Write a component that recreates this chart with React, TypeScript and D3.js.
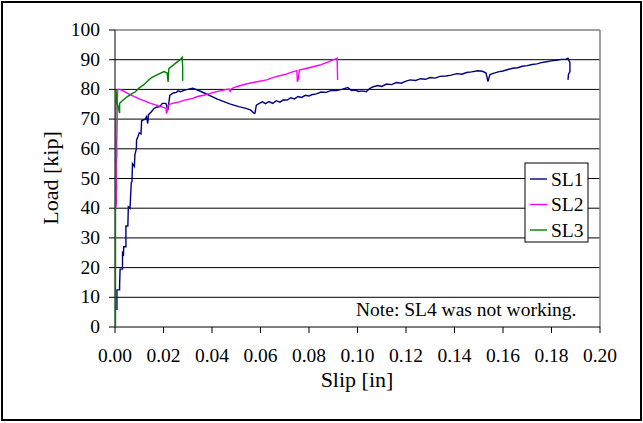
import React from "react";
import * as d3 from "d3";

const xTicks = [0, 0.02, 0.04, 0.06, 0.08, 0.1, 0.12, 0.14, 0.16, 0.18, 0.2];
const yTicks = [0, 10, 20, 30, 40, 50, 60, 70, 80, 90, 100];
const seriesNames = ["SL1", "SL2", "SL3"];
const seriesColors = ["#000080", "#FF00FF", "#008000"];

const sl1: [number, number][] = [
  [0.0008, 5.7], [0.0008, 12.5], [0.0019, 12.5], [0.0019, 14], [0.0021, 19.5], [0.0031, 19.5],
  [0.0031, 25], [0.0035, 24.5], [0.0036, 27], [0.0045, 27], [0.0045, 34], [0.0053, 34],
  [0.0055, 40.5], [0.0062, 40], [0.0067, 48.6], [0.007, 49], [0.0072, 55], [0.008, 54],
  [0.0082, 58], [0.0088, 60], [0.0089, 63], [0.0094, 64], [0.01, 65.4], [0.0107, 65],
  [0.011, 69.5], [0.0125, 70], [0.013, 70.8], [0.0135, 68.5], [0.0138, 71.5], [0.015, 72.5],
  [0.016, 73.5], [0.017, 74], [0.0185, 74.2], [0.0195, 75.3], [0.021, 75.3], [0.0218, 73],
  [0.0222, 75.5], [0.0226, 78], [0.024, 78.8], [0.0253, 79], [0.026, 79.5], [0.027, 79.2],
  [0.0287, 79.8], [0.03, 80], [0.032, 80.4], [0.034, 79.8], [0.0371, 78.7], [0.042, 76.8],
  [0.0473, 75.1], [0.051, 74.2], [0.054, 73.6], [0.056, 73], [0.0574, 71.9], [0.0577, 72],
  [0.0583, 74.7], [0.0595, 75.3], [0.0608, 75.8], [0.062, 75.2], [0.0635, 75.9], [0.065, 75.3],
  [0.0665, 76.2], [0.068, 75.7], [0.0695, 76.5], [0.071, 76.4], [0.0725, 77.2], [0.074, 76.8],
  [0.0755, 77.6], [0.077, 77.3], [0.0785, 78], [0.08, 77.8], [0.0811, 78.2], [0.083, 78.5],
  [0.085, 79.1], [0.087, 79], [0.089, 79.6], [0.0913, 79.6], [0.0935, 80], [0.096, 80.6],
  [0.0975, 79.6], [0.099, 79.8], [0.1005, 79.3], [0.102, 79.5], [0.1036, 79.2], [0.105, 80.3],
  [0.1065, 80.9], [0.1085, 81.3], [0.11, 81], [0.112, 81.8], [0.114, 81.6], [0.116, 82.3],
  [0.118, 82.1], [0.12, 82.8], [0.1217, 83.2], [0.124, 83], [0.126, 83.6], [0.128, 83.4],
  [0.13, 84], [0.132, 83.8], [0.134, 84.4], [0.1365, 84.5], [0.1386, 84.8], [0.141, 85.3],
  [0.143, 85.1], [0.145, 85.7], [0.147, 85.9], [0.1496, 86.3], [0.1515, 86.1], [0.153, 85.5],
  [0.1538, 82.6], [0.1546, 85], [0.156, 85.4], [0.158, 85.9], [0.16, 86.2], [0.162, 86.7],
  [0.164, 87.1], [0.166, 87.3], [0.168, 87.8], [0.17, 88], [0.172, 88.4], [0.174, 88.6],
  [0.1758, 89], [0.178, 89.3], [0.18, 89.6], [0.182, 89.8], [0.184, 90.1], [0.186, 90.2],
  [0.1868, 90.5], [0.1876, 89], [0.1876, 86], [0.187, 85], [0.1868, 83.2],
];

const sl2: [number, number][] = [
  [0.0003, 40], [0.0006, 42], [0.0005, 45], [0.0007, 47], [0.0006, 50], [0.0005, 55],
  [0.0008, 58], [0.0007, 62], [0.0008, 65], [0.0009, 70], [0.0009, 75], [0.0011, 80],
  [0.0021, 80], [0.006, 78.3], [0.01, 76.8], [0.015, 75.2], [0.019, 74.2], [0.021, 73.6],
  [0.0212, 71.9], [0.0215, 72.5], [0.0219, 74.7], [0.0235, 75.3], [0.025, 75.5], [0.0265, 75.8],
  [0.0287, 76.4], [0.03, 76.6], [0.032, 77], [0.034, 77.6], [0.037, 78.1], [0.039, 78.6],
  [0.041, 79.1], [0.0439, 79.6], [0.046, 80], [0.047, 80.1], [0.0475, 79.3], [0.048, 80.2],
  [0.05, 80.9], [0.054, 81.8], [0.058, 82.5], [0.0625, 83.2], [0.066, 84.2], [0.07, 85],
  [0.0735, 86], [0.075, 86.3], [0.0752, 82.6], [0.0756, 83.5], [0.076, 86.5], [0.08, 87.3],
  [0.0845, 88.2], [0.088, 89.3], [0.0916, 90.5], [0.0918, 83.2],
];

const sl3: [number, number][] = [
  [0.0002, 0], [0.0002, 40], [0.0003, 75], [0.0004, 80], [0.0008, 75.3], [0.0012, 74.5],
  [0.0019, 72], [0.0019, 75.3], [0.003, 76.2], [0.005, 77.5], [0.0065, 78.3], [0.0084, 79.2],
  [0.01, 80.5], [0.0118, 81.5], [0.0135, 82.8], [0.0151, 84], [0.0175, 85], [0.0202, 86],
  [0.0215, 85.5], [0.0219, 82.5], [0.0222, 87], [0.0245, 88.5], [0.027, 90.1], [0.0277, 90.8],
  [0.0279, 87.4], [0.0279, 82.9],
];

const seriesData = [sl1, sl2, sl3];

export default function App() {
  const W = 643, H = 423;
  const left = 115, right = 600, top = 30, bottom = 327;
  const x = d3.scaleLinear().domain([0, 0.2]).range([left, right]);
  const y = d3.scaleLinear().domain([0, 100]).range([bottom, top]);
  const line = d3.line<[number, number]>().x((d) => x(d[0])).y((d) => y(d[1]));
  const font = "Liberation Serif, DejaVu Serif, Times New Roman, serif";
  const fs = 19.5;

  return (
    <svg width={W} height={H} style={{ position: "absolute", left: 0, top: 0, background: "#fff", fontFamily: font }}>
      <rect x={2} y={2} width={639} height={418} fill="#fff" stroke="#000" strokeWidth={2} />
      {yTicks.filter((t) => t > 0 && t < 100).map((t) => (
        <line key={t} x1={left} x2={right} y1={y(t)} y2={y(t)} stroke="#000" strokeWidth={1} />
      ))}
      <line x1={left} x2={right} y1={top} y2={top} stroke="#808080" strokeWidth={1.5} />
      <line x1={right} x2={right} y1={top} y2={bottom} stroke="#808080" strokeWidth={1.5} />
      <line x1={left} x2={left} y1={top} y2={bottom} stroke="#000" strokeWidth={1} />
      <line x1={left} x2={right} y1={bottom} y2={bottom} stroke="#000" strokeWidth={1} />
      {yTicks.map((t) => (
        <g key={t}>
          <line x1={left - 6} x2={left} y1={y(t)} y2={y(t)} stroke="#000" />
          <text x={100} y={y(t) + 6} fontSize={fs} textAnchor="end" style={{ fontFamily: font }}>{t}</text>
        </g>
      ))}
      {xTicks.map((t) => (
        <g key={t}>
          <line x1={x(t)} x2={x(t)} y1={bottom} y2={bottom + 6} stroke="#000" />
          <text x={x(t)} y={362} fontSize={fs} textAnchor="middle" style={{ fontFamily: font }}>{t.toFixed(2)}</text>
        </g>
      ))}
      {seriesData.map((s, i) => (
        <path key={i} d={line(s) || ""} fill="none" stroke={seriesColors[i]} strokeWidth={1.4} />
      ))}
      <text x={356} y={316} fontSize={fs} style={{ fontFamily: font }}>Note: SL4 was not working.</text>
      <rect x={525} y={163} width={63} height={79} fill="#fff" stroke="#000" strokeWidth={1} />
      {seriesNames.map((n, i) => (
        <g key={n}>
          <line x1={530} x2={547} y1={179 + i * 25.5} y2={179 + i * 25.5} stroke={seriesColors[i]} strokeWidth={1.4} />
          <text x={551} y={179 + i * 25.5 + 6.5} fontSize={fs} style={{ fontFamily: font }}>{n}</text>
        </g>
      ))}
      <text x={357} y={387} fontSize={22} textAnchor="middle" style={{ fontFamily: font }}>Slip [in]</text>
      <text transform="translate(58,178) rotate(-90)" fontSize={22} textAnchor="middle" style={{ fontFamily: font }}>Load [kip]</text>
    </svg>
  );
}
